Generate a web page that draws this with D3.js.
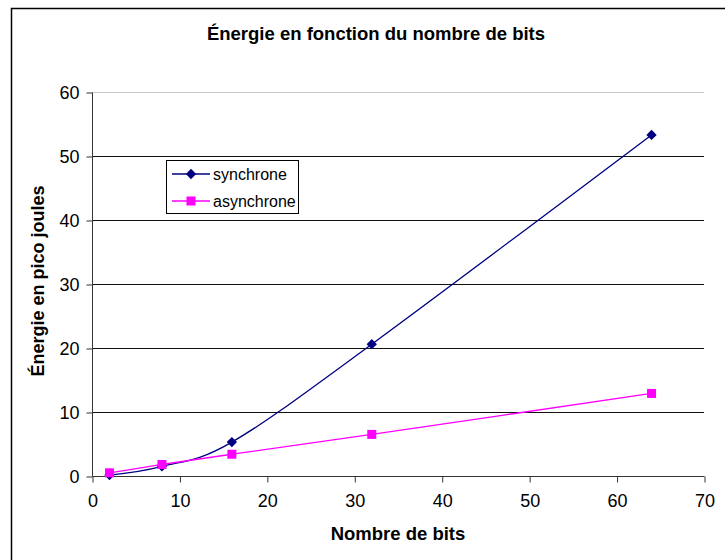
<!DOCTYPE html>
<html>
<head>
<meta charset="utf-8">
<script src="https://cdn.jsdelivr.net/npm/d3@7"></script>
<style>
html,body{margin:0;padding:0;background:#fff;}
svg{display:block;}
text{font-family:"Liberation Sans",Arial,sans-serif;}
</style>
</head>
<body>
<script>
const titleText = "Énergie en fonction du nombre de bits";
const xTitle = "Nombre de bits";
const yTitle = "Énergie en pico joules";
const bits = [2, 8, 16, 32, 64];
const synchrone = [0.15, 1.5, 5.3, 20.6, 53.3];
const asynchrone = [0.5, 1.8, 3.4, 6.5, 12.9];
const seriesNames = ["synchrone", "asynchrone"];
const xTicks = [0, 10, 20, 30, 40, 50, 60, 70];
const yTicks = [0, 10, 20, 30, 40, 50, 60];

const W = 725, H = 560;
const svg = d3.select("body").append("svg").attr("width", W).attr("height", H);

// outer frame (only top/left visible in reference)
svg.append("rect").attr("x", 11.5).attr("y", 8.5).attr("width", W + 20).attr("height", H + 20)
  .attr("fill", "#fff").attr("stroke", "#000").attr("stroke-width", 1.5);

const L = 92, R = 704, T = 92, B = 476;
const x = d3.scaleLinear().domain([0, 70]).range([L, R]);
const y = d3.scaleLinear().domain([0, 60]).range([B, T]);

// gridlines
svg.append("g").selectAll("line").data(yTicks.filter(d => d > 0)).join("line")
  .attr("x1", L).attr("x2", R)
  .attr("y1", d => Math.round(y(d)) + 0.5).attr("y2", d => Math.round(y(d)) + 0.5)
  .attr("stroke", d => d === 60 ? "#c8c8c8" : "#111").attr("stroke-width", 1);

// axes
const yAxis = d3.axisLeft(y).tickValues(yTicks).tickSize(6).tickPadding(7).tickFormat(d3.format("d"));
const gy = svg.append("g").attr("transform", `translate(${L + 0.5},0.5)`).call(yAxis);
const xAxis = d3.axisBottom(x).tickValues(xTicks).tickSize(6).tickPadding(12).tickFormat(d3.format("d"));
const gx = svg.append("g").attr("transform", `translate(0.5,${B + 0.5})`).call(xAxis);
[gx, gy].forEach(g => {
  g.selectAll(".tick line").attr("stroke", "#333");
  g.selectAll(".tick text").attr("font-size", 18).attr("fill", "#000")
    .attr("font-family", "'Liberation Sans', Arial, sans-serif");
});
gx.select(".domain").attr("stroke", "#333").attr("d", `M${L},0H${R}`);
gy.select(".domain").attr("stroke", "#333").attr("d", `M0,${T}V${B}`);

// lines
const line = d3.line().x(d => x(d[0])).y(d => y(d[1])).curve(d3.curveCatmullRom.alpha(0));
const sData = bits.map((b, i) => [b, synchrone[i]]);
const aData = bits.map((b, i) => [b, asynchrone[i]]);

svg.append("path").datum(sData).attr("d", line).attr("fill", "none")
  .attr("stroke", "#000080").attr("stroke-width", 1.3);
svg.append("path").datum(aData).attr("d", line).attr("fill", "none")
  .attr("stroke", "#ff00ff").attr("stroke-width", 1.3);

const diamond = d3.symbol().type(d3.symbolDiamond2).size(68);
svg.append("g").selectAll("path").data(sData).join("path")
  .attr("transform", d => `translate(${x(d[0])},${y(d[1])})`)
  .attr("d", diamond).attr("fill", "#000080");
svg.append("g").selectAll("rect").data(aData).join("rect")
  .attr("x", d => x(d[0]) - 4.5).attr("y", d => y(d[1]) - 4.5)
  .attr("width", 9).attr("height", 9).attr("fill", "#ff00ff");

// legend
const lg = svg.append("g");
lg.append("rect").attr("x", 166.5).attr("y", 160.5).attr("width", 132).attr("height", 53)
  .attr("fill", "#fff").attr("stroke", "#000").attr("stroke-width", 1);
const colors = ["#000080", "#ff00ff"];
seriesNames.forEach((n, i) => {
  const cy = 174 + i * 27;
  lg.append("line").attr("x1", 172).attr("x2", 210).attr("y1", cy).attr("y2", cy)
    .attr("stroke", colors[i]).attr("stroke-width", 1.3);
  if (i === 0) {
    lg.append("path").attr("transform", `translate(191,${cy})`).attr("d", diamond).attr("fill", colors[i]);
  } else {
    lg.append("rect").attr("x", 186.5).attr("y", cy - 4.5).attr("width", 9).attr("height", 9).attr("fill", colors[i]);
  }
  lg.append("text").attr("x", 213).attr("y", cy + 5.5).attr("font-size", 16).text(n);
});

// titles
svg.append("text").attr("x", 376).attr("y", 40).attr("text-anchor", "middle")
  .attr("font-size", 18.5).attr("font-weight", "bold").text(titleText);
svg.append("text").attr("x", 398).attr("y", 540).attr("text-anchor", "middle")
  .attr("font-size", 18.5).attr("font-weight", "bold").text(xTitle);
svg.append("text").attr("transform", "translate(44,281) rotate(-90)").attr("text-anchor", "middle")
  .attr("font-size", 18).attr("font-weight", "bold").text(yTitle);
</script>
</body>
</html>
